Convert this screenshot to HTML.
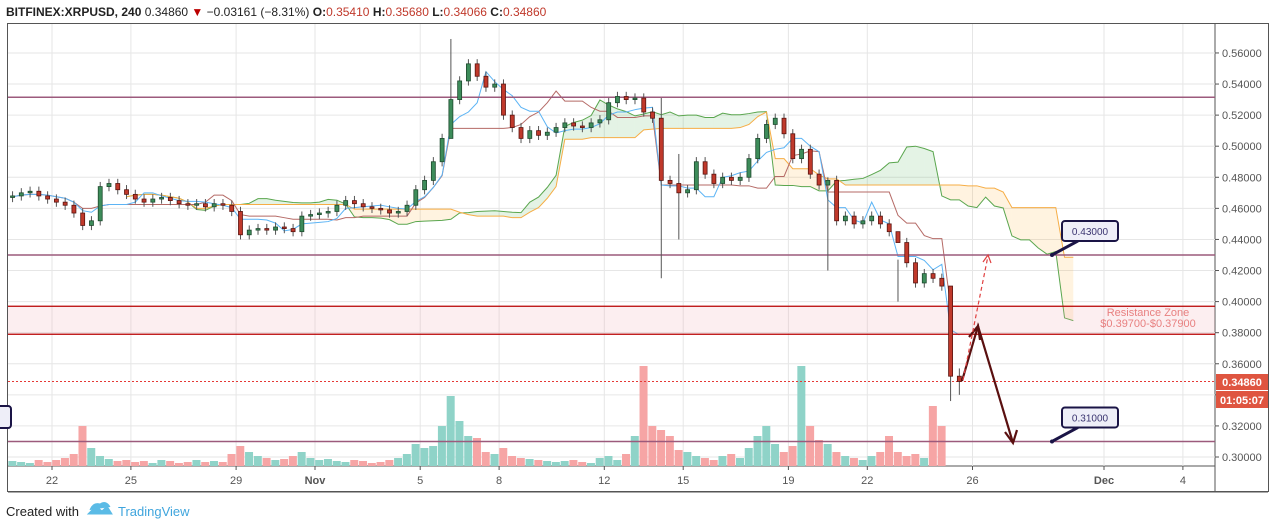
<!DOCTYPE html>
<html><head><meta charset="utf-8"><style>
body{margin:0;background:#fff;font-family:"Liberation Sans",sans-serif}
#wrap{position:relative;width:1274px;height:529px;overflow:hidden}
</style></head><body>
<div id="wrap">
<svg id="c" width="1274" height="529" xmlns="http://www.w3.org/2000/svg"></svg>
</div>
<script>
const closes=[0.468,0.470,
0.471,0.468,0.466, 0.464,0.462,0.457, 0.449,0.452,0.474, 0.476,0.472,0.469, 0.466,0.464,0.466,
0.467,0.465,0.463, 0.462,0.463,0.461, 0.463,0.462,0.458, 0.443,0.446,0.447, 0.446,0.448,0.447,
0.445,0.455,0.456, 0.457,0.458,0.462, 0.465,0.463,0.461, 0.460,0.459,0.457, 0.458,0.462,0.472,
0.478,0.490,0.505, 0.530,0.542,0.553, 0.545,0.538,0.540, 0.520,0.512,0.505, 0.510,0.507,0.509,
0.512,0.515,0.513, 0.512,0.515,0.517, 0.528,0.532,0.530, 0.531,0.522,0.518, 0.478,0.476,0.470,
0.472,0.490,0.482, 0.476,0.480,0.478, 0.480,0.492,0.505, 0.514,0.518,0.508, 0.492,0.498,0.482,
0.475,0.478,0.452, 0.455,0.450,0.452, 0.455,0.450,0.445, 0.438,0.425,0.412, 0.418,0.415,0.410,
0.352,0.3486];
const firstOpen=0.467;
const wickBars=[50,74,76,93,101,107,108];
const wickHighs=[0.569,0.531,0.495,0.480,0.427,0.410,0.357];
const wickLows=[0.528,0.415,0.440,0.420,0.400,0.336,0.340];
const volumes=[5,4,3,6,4,6,8,12,40,18,10,7,5,6,4,5,3,6,5,3,4,6,4,5,4,12,20,14,10,8,6,
7,10,14,8,6,7,5,4,6,5,3,4,6,8,12,22,18,20,40,70,45,30,28,14,12,18,10,8,7,6,
5,4,5,6,4,3,8,10,6,12,30,100,40,36,30,16,14,10,8,6,10,12,8,18,30,40,22,14,20,100,
40,26,22,14,10,8,6,10,14,30,14,10,12,8,60,40];
const yTicks=[0.56,0.54,0.52,0.50,0.48,0.46,0.44,0.42,0.40,0.38,0.36,0.34,0.32,0.30];
const xLabels=["22","25","29","Nov","5","8","12","15","19","22","26","Dec","4"];
const xLabelDays=[2,5,9,12,16,19,23,26,30,33,37,42,45];
const levels=[0.5315,0.43,0.31];
const zone=[0.397,0.379];
const lastPrice=0.3486;

const svg=document.getElementById('c');
const NS="http://www.w3.org/2000/svg";
const L=8,R=1215,T=24,B=466;
const dayW=26.3, x0day=52-2*dayW;
const y=p=>457-(p-0.30)/0.02*31.08;
const barX=i=>x0day+(i+1)*dayW/3+dayW/6;
const dayX=d=>x0day+d*dayW;
function el(tag,attrs,parent){const e=document.createElementNS(NS,tag);for(const k in attrs)e.setAttribute(k,attrs[k]);(parent||svg).appendChild(e);return e;}

const frame=el('rect',{x:L-0.5,y:T-0.5,width:1261,height:468,fill:'none',stroke:'#555','stroke-width':1});

el('line',{x1:R,y1:T,x2:R,y2:492,stroke:'#555'});
el('line',{x1:L,y1:B,x2:R,y2:B,stroke:'#555'});
el('line',{x1:L,y1:492,x2:1268,y2:492,stroke:'#555'});
const grid=el('g',{});
yTicks.forEach(p=>el('line',{x1:L,x2:R,y1:y(p),y2:y(p),stroke:'#e6e6e6'},grid));
xLabelDays.forEach(d=>el('line',{x1:dayX(d),x2:dayX(d),y1:T,y2:B,stroke:'#e6e6e6'},grid));

const n=closes.length;
const opens=closes.map((c,i)=>i?closes[i-1]:firstOpen);
const highs=closes.map((c,i)=>{const k=wickBars.indexOf(i);return k>=0?wickHighs[k]:Math.max(c,opens[i])+0.003;});
const lows=closes.map((c,i)=>{const k=wickBars.indexOf(i);return k>=0?wickLows[k]:Math.min(c,opens[i])-0.003;});

const vg=el('g',{});
volumes.forEach((v,i)=>{const b=el('rect',{x:barX(i)-4.2,y:B-v,width:8,height:v,fill:closes[i]>=opens[i]?'#8fd3c8':'#f6a5a5'},vg);
});

const hh=(a,b)=>Math.max(...highs.slice(a,b)),ll=(a,b)=>Math.min(...lows.slice(a,b));
const mid=(i,p)=>{const s=Math.max(0,i-p+1);return (hh(s,i+1)+ll(s,i+1))/2;};
const tenkan=closes.map((c,i)=>mid(i,5)),kijun=closes.map((c,i)=>mid(i,13));
const sh=13;
const spanA=[],spanB=[];
for(let i=0;i<n;i++){spanA.push([i+sh,(tenkan[i]+kijun[i])/2]);spanB.push([i+sh,mid(i,26)]);}
const cloud=el('g',{});
for(let i=0;i<n-1;i++){
 const a1=spanA[i][1],a2=spanA[i+1][1],b1=spanB[i][1],b2=spanB[i+1][1];
 const x1=barX(spanA[i][0]),x2=barX(spanA[i+1][0]);
 el('polygon',{points:`${x1},${y(a1)} ${x2},${y(a2)} ${x2},${y(b2)} ${x1},${y(b1)}`,fill:(a1+a2)>=(b1+b2)?'rgba(76,175,80,0.15)':'rgba(255,167,38,0.14)'},cloud);
}
const line=(pts,col,name)=>{const p=el('polyline',{points:pts.map(q=>barX(q[0])+','+y(q[1])).join(' '),fill:'none',stroke:col,'stroke-width':1});};
line(spanA,'#5aa64e','senkou-span-a');
line(spanB,'#f6ad45','senkou-span-b');
line(kijun.map((v,i)=>[i,v]),'#b56a66','kijun-sen');
line(tenkan.map((v,i)=>[i,v]),'#5cb4f5','tenkan-sen');

levels.forEach(p=>{const l=el('line',{x1:L,x2:R,y1:y(p),y2:y(p),stroke:'#9c5a7c','stroke-width':1.5});});
const z=el('rect',{x:L,y:y(zone[0]),width:R-L,height:y(zone[1])-y(zone[0]),fill:'rgba(240,160,170,0.18)'});
zone.forEach(p=>el('line',{x1:L,x2:R,y1:y(p),y2:y(p),stroke:'#b80000','stroke-width':1.2}));
const zt=el('text',{x:1148,y:316,'font-size':11,fill:'#e88080','text-anchor':'middle'});zt.textContent='Resistance Zone';
const zt2=el('text',{x:1148,y:327,'font-size':11,fill:'#e88080','text-anchor':'middle'});zt2.textContent='$0.39700-$0.37900';
const lp=el('line',{x1:L,x2:R,y1:y(lastPrice),y2:y(lastPrice),stroke:'#e53935','stroke-width':1,'stroke-dasharray':'2 2'});


const cg=el('g',{});
closes.forEach((c,i)=>{const o=opens[i],up=c>=o,x=barX(i);
 el('line',{x1:x,x2:x,y1:y(highs[i]),y2:y(lows[i]),stroke:'#555'},cg);
 const r=el('rect',{x:x-2,y:y(Math.max(o,c)),width:4,height:Math.max(1,Math.abs(y(o)-y(c))),fill:up?'#3d8c5a':'#c0392b',stroke:up?'#1e4a2e':'#5a1410','stroke-width':0.8},cg);
 });

const ag=el('g',{});
el('polyline',{points:'962,381 978,326 1013,443',fill:'none',stroke:'#5a1010','stroke-width':2.2},ag);
el('polyline',{points:'969,337 978,326 980,340',fill:'none',stroke:'#5a1010','stroke-width':2.2},ag);
el('polyline',{points:'1005,432 1013,443 1017,430',fill:'none',stroke:'#5a1010','stroke-width':2.2},ag);
el('line',{x1:963,y1:380,x2:988,y2:256,stroke:'#e04040','stroke-dasharray':'4,3','stroke-width':1.2},ag);
el('polyline',{points:'983,262 988,255 991,263',fill:'none',stroke:'#e04040','stroke-width':1.2},ag);

function callout(cy,label){const g=el('g',{});
 el('line',{x1:1052,y1:y(cy),x2:1078,y2:y(cy)-14,stroke:'#1a1446','stroke-width':3},g);
 el('rect',{x:1062,y:y(cy)-34,width:56,height:20,rx:3,fill:'#eeeef8',stroke:'#1a1446','stroke-width':2},g);
 el('circle',{cx:1052,cy:y(cy),r:2,fill:'#1a1446'},g);
 const t=el('text',{x:1090,y:y(cy)-20,'font-size':10,fill:'#3a3470','text-anchor':'middle'},g);t.textContent=label;}
callout(0.43,'0.43000');callout(0.31,'0.31000');
el('rect',{x:-6,y:406,width:17,height:22,rx:3,fill:'#eeeef8',stroke:'#1a1446','stroke-width':2});

yTicks.forEach(p=>{el('line',{x1:R,x2:R+4,y1:y(p),y2:y(p),stroke:'#555'});const t=el('text',{x:1222,y:y(p)+4,'font-size':11,fill:'#555'});t.textContent=p.toFixed(5);});
el('rect',{x:1216,y:374,width:52,height:16,fill:'#df5540'});
const pt=el('text',{x:1242,y:386,'font-size':11,'font-weight':'bold',fill:'#fff','text-anchor':'middle'});pt.textContent='0.34860';
el('rect',{x:1216,y:391,width:52,height:17,fill:'#df5540'});
const tt=el('text',{x:1242,y:404,'font-size':11,'font-weight':'bold',fill:'#fff','text-anchor':'middle'});tt.textContent='01:05:07';

xLabels.forEach((s,i)=>{const x=dayX(xLabelDays[i]);el('line',{x1:x,x2:x,y1:B,y2:B+4,stroke:'#555'});const t=el('text',{x:x,y:484,'font-size':11,fill:'#555','text-anchor':'middle','font-weight':(s==='Nov'||s==='Dec')?'bold':'normal'});t.textContent=s;});

const h=el('text',{x:6,y:16,'font-size':12,fill:'#222'});
h.innerHTML='<tspan font-weight="bold">BITFINEX:XRPUSD, 240</tspan> 0.34860 <tspan fill="#b00">▼</tspan> −0.03161 (−8.31%) <tspan font-weight="bold">O:</tspan><tspan fill="#c0392b">0.35410</tspan> <tspan font-weight="bold">H:</tspan><tspan fill="#c0392b">0.35680</tspan> <tspan font-weight="bold">L:</tspan><tspan fill="#c0392b">0.34066</tspan> <tspan font-weight="bold">C:</tspan><tspan fill="#c0392b">0.34860</tspan>';

const f=el('text',{x:6,y:516,'font-size':13,fill:'#222'});f.textContent='Created with';
const logo=el('path',{d:'M88,514 l8,-8 l6,5 l5,-5 l5,8 z M90,510 q3,-8 10,-6 q6,-4 10,3',fill:'#5bbbe6',stroke:'#5bbbe6'});
const f2=el('text',{x:118,y:516,'font-size':13,fill:'#3fa5dd'});f2.textContent='TradingView';
</script>
</body></html>
